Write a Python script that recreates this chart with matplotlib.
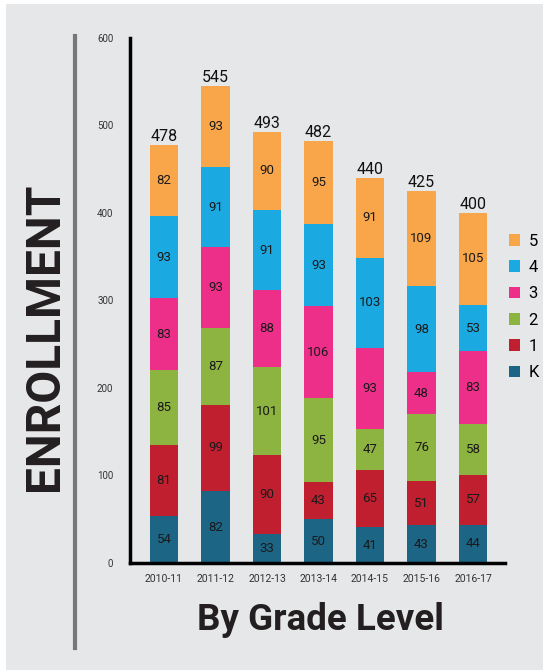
import matplotlib.pyplot as plt
import numpy as np
from matplotlib.patches import Rectangle, Patch

# ------------------------------------------------------------
# datos
# ------------------------------------------------------------
years = ["2010-11", "2011-12", "2012-13", "2013-14", "2014-15", "2015-16", "2016-17"]
grade_k = [54, 82, 33, 50, 41, 43, 44]
grade_1 = [81, 99, 90, 43, 65, 51, 57]
grade_2 = [85, 87, 101, 95, 47, 76, 58]
grade_3 = [83, 93, 88, 106, 93, 48, 83]
grade_4 = [93, 91, 91, 93, 103, 98, 53]
grade_5 = [82, 93, 90, 95, 91, 109, 105]
grade_names = ["K", "1", "2", "3", "4", "5"]
yticks = [0, 100, 200, 300, 400, 500, 600]

colors = ["#1c6585", "#c01f30", "#8db340", "#ee2f8a", "#1ba9e1", "#f9a54a"]
BG = "#e6e7e8"

plt.rcParams["font.family"] = ["Roboto", "DejaVu Sans"]

fig = plt.figure(figsize=(5.43, 6.70), dpi=100)
fig.patch.set_facecolor("white")
fig.patches.append(Rectangle((6 / 543, 0), 1, 1 - 4 / 670, transform=fig.transFigure,
                             facecolor=BG, edgecolor="none", zorder=-10))

ax = fig.add_axes([130 / 543, 1 - 563 / 670, 375 / 543, 525 / 670])
ax.set_facecolor("none")
ax.set_zorder(5)

series = [grade_k, grade_1, grade_2, grade_3, grade_4, grade_5]
x = np.arange(len(years))
bottom = np.zeros(len(years))
for vals, col in zip(series, colors):
    vals = np.array(vals)
    ax.bar(x, vals, 0.56, bottom=bottom, color=col, zorder=2)
    for xi, b, v in zip(x, bottom, vals):
        ax.text(xi, b + v / 2, str(v), ha="center", va="center", fontsize=9.5,
                color="#1a1a1a", zorder=3)
    bottom = bottom + vals

for xi, tot in zip(x, bottom):
    ax.text(xi, tot + 1, str(int(tot)), ha="center", va="bottom", fontsize=11.5,
            color="#111111", zorder=3)

ax.set_xlim(-0.66, 6.62)
ax.set_ylim(0, 600)
ax.set_xticks(x)
ax.set_xticklabels(years, fontsize=7.5, color="#333333")
ax.set_yticks(yticks)
ax.set_yticklabels([str(t) for t in yticks], fontsize=7, color="#333333")
ax.tick_params(axis="both", length=0)
ax.tick_params(axis="y", pad=12)
ax.tick_params(axis="x", pad=8)
for s in ["top", "right"]:
    ax.spines[s].set_visible(False)
for s in ["left", "bottom"]:
    ax.spines[s].set_linewidth(2.5)
    ax.spines[s].set_color("black")

# leyenda
handles = [Patch(facecolor=c, edgecolor="none") for c in colors[::-1]]
fig.legend(handles, grade_names[::-1], loc="center left",
           bbox_to_anchor=(502 / 543, 1 - 307 / 670), frameon=False,
           fontsize=12, handlelength=0.7, handleheight=0.7, handletextpad=0.5,
           labelspacing=0.68, borderaxespad=0)

# decoracion
fig.add_artist(plt.Line2D([75 / 543, 75 / 543], [1 - 36 / 670, 1 - 648 / 670],
                          transform=fig.transFigure, color="#777777", linewidth=3))
fig.text(45 / 543, 1 - 337 / 670, "ENROLLMENT", rotation=90, ha="center", va="center",
         fontsize=34.5, fontweight="bold", color="#231f20")
fig.text(320 / 543, 1 - 620 / 670, "By Grade Level", ha="center", va="center",
         fontsize=26.5, fontweight="bold", color="#231f20")

fig.savefig("out.png", dpi=100, facecolor=fig.get_facecolor())
